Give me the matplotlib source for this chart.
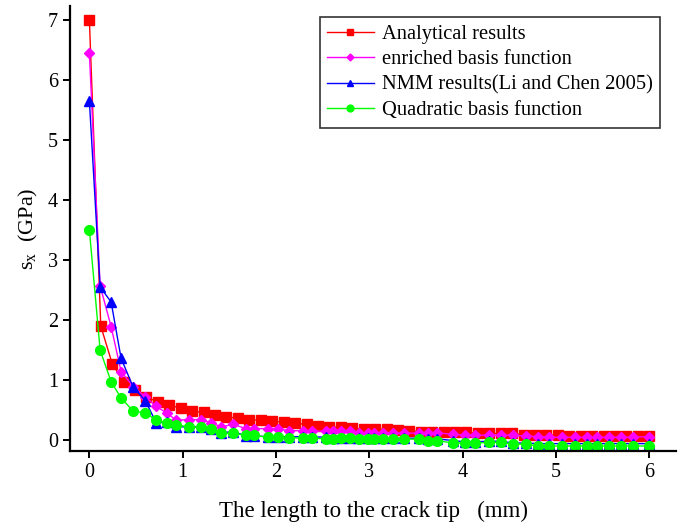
import matplotlib
matplotlib.use("Agg")
import matplotlib.pyplot as plt

plt.rcParams["font.family"] = ["Liberation Serif", "DejaVu Serif"]
plt.rcParams["mathtext.fontset"] = "custom"
plt.rcParams["mathtext.rm"] = "Liberation Serif"
plt.rcParams["mathtext.it"] = "Liberation Serif:italic"

# ------------------------------------
# Data
# ------------------------------------
x_ana = [0.000, 0.122, 0.245, 0.367, 0.490, 0.612, 0.735, 0.857, 0.980, 1.102,
         1.224, 1.347, 1.469, 1.592, 1.714, 1.837, 1.959, 2.082, 2.204, 2.327,
         2.449, 2.571, 2.694, 2.816, 2.939, 3.061, 3.184, 3.306, 3.429, 3.551,
         3.673, 3.796, 3.918, 4.041, 4.163, 4.286, 4.408, 4.531, 4.653, 4.776,
         4.898, 5.020, 5.143, 5.265, 5.388, 5.510, 5.633, 5.755, 5.878, 6.000]
y_ana = [7.00, 1.90, 1.27, 0.97, 0.83, 0.71, 0.64, 0.58, 0.53, 0.48,
         0.46, 0.41, 0.39, 0.36, 0.34, 0.33, 0.31, 0.30, 0.28, 0.26,
         0.24, 0.22, 0.21, 0.195, 0.18, 0.18, 0.18, 0.17, 0.155, 0.14,
         0.13, 0.13, 0.14, 0.14, 0.11, 0.11, 0.11, 0.11, 0.09, 0.08,
         0.09, 0.08, 0.07, 0.07, 0.065, 0.065, 0.065, 0.07, 0.07, 0.07]

# numerical results share (roughly) the same sampling points
x_num = [0.000, 0.115, 0.233, 0.340, 0.470, 0.600, 0.715, 0.830, 0.930, 1.065,
         1.200, 1.300, 1.410, 1.540, 1.680, 1.760, 1.910, 2.020, 2.140, 2.290,
         2.390, 2.540, 2.610, 2.700, 2.790, 2.890, 2.990, 3.050, 3.150, 3.250,
         3.370, 3.530, 3.630, 3.720, 3.900, 4.020, 4.130, 4.280, 4.410, 4.540,
         4.680, 4.810, 4.930, 5.060, 5.200, 5.330, 5.440, 5.570, 5.700, 5.830,
         6.000]
y_enr = [6.45, 2.57, 1.89, 1.14, 0.89, 0.72, 0.56, 0.45, 0.33, 0.34,
         0.34, 0.29, 0.22, 0.26, 0.19, 0.19, 0.19, 0.19, 0.155, 0.155,
         0.15, 0.145, 0.15, 0.145, 0.15, 0.12, 0.11, 0.12, 0.12, 0.11,
         0.12, 0.11, 0.11, 0.12, 0.095, 0.08, 0.08, 0.08, 0.08, 0.08,
         0.067, 0.055, 0.045, 0.045, 0.045, 0.045, 0.045, 0.045, 0.045, 0.05,
         0.055]
y_nmm = [5.65, 2.55, 2.30, 1.36, 0.88, 0.655, 0.29, 0.295, 0.22, 0.22,
         0.22, 0.18, 0.12, 0.14, 0.07, 0.07, 0.055, 0.055, 0.055, 0.055,
         0.05, 0.05, 0.04, 0.04, 0.04, 0.04, 0.03, 0.03, 0.03, 0.03,
         0.03, 0.03, 0.02, 0.02, -0.01, -0.03, -0.03, -0.02, -0.02, -0.05,
         -0.05, -0.06, -0.06, -0.06, -0.06, -0.06, -0.06, -0.06, -0.06, -0.06,
         -0.06]
y_quad = [3.50, 1.50, 0.97, 0.70, 0.48, 0.455, 0.33, 0.29, 0.25, 0.22,
          0.21, 0.19, 0.11, 0.11, 0.08, 0.08, 0.045, 0.045, 0.04, 0.03,
          0.03, 0.02, 0.02, 0.03, 0.03, 0.02, 0.02, 0.02, 0.02, 0.02,
          0.02, 0.01, -0.01, -0.01, -0.05, -0.05, -0.05, -0.04, -0.04, -0.07,
          -0.07, -0.10, -0.10, -0.10, -0.10, -0.10, -0.10, -0.10, -0.10, -0.10,
          -0.10]

labels = ["Analytical results", "enriched basis function",
          "NMM results(Li and Chen 2005)", "Quadratic basis function"]

# ------------------------------------
# Plot
# ------------------------------------
fig = plt.figure(figsize=(6.78, 5.26), dpi=100)
ax = fig.add_axes([0.1032, 0.1426, 0.894, 0.846])

ax.plot(x_ana, y_ana, color="#ff0000", marker="s", ms=6.5, lw=1, label=labels[0])
ax.plot(x_num, y_enr, color="#ff00ff", marker="D", ms=5, lw=1, label=labels[1])
ax.plot(x_num, y_nmm, color="#0000ff", marker="^", ms=6.5, lw=1, label=labels[2])
ax.plot(x_num, y_quad, color="#00ff00", marker="o", ms=7, lw=1, label=labels[3])

ax.set_xlim(-0.208, 6.287)
ax.set_ylim(-0.183, 7.233)
ax.set_xticks(range(0, 7))
ax.set_yticks(range(0, 8))

for s in ["top", "right"]:
    ax.spines[s].set_visible(False)
for s in ["left", "bottom"]:
    ax.spines[s].set_linewidth(1.6)
ax.tick_params(direction="out", length=5, width=1.4, labelsize=14.5)

ax.set_xlabel("The length to the crack tip   (mm)", fontsize=16.5, labelpad=14)
ax.set_ylabel(r"s$_{\mathrm{x}}$  (GPa)", fontsize=16, labelpad=6)

leg = ax.legend(loc="upper right", bbox_to_anchor=(0.974, 0.975), borderaxespad=0,
                fontsize=14.8, frameon=True, fancybox=False, edgecolor="black",
                handlelength=2.3, handletextpad=0.4, borderpad=0.35,
                labelspacing=0.3, markerscale=0.7)
leg.get_frame().set_linewidth(1.2)

fig.savefig("out.png", dpi=100)
